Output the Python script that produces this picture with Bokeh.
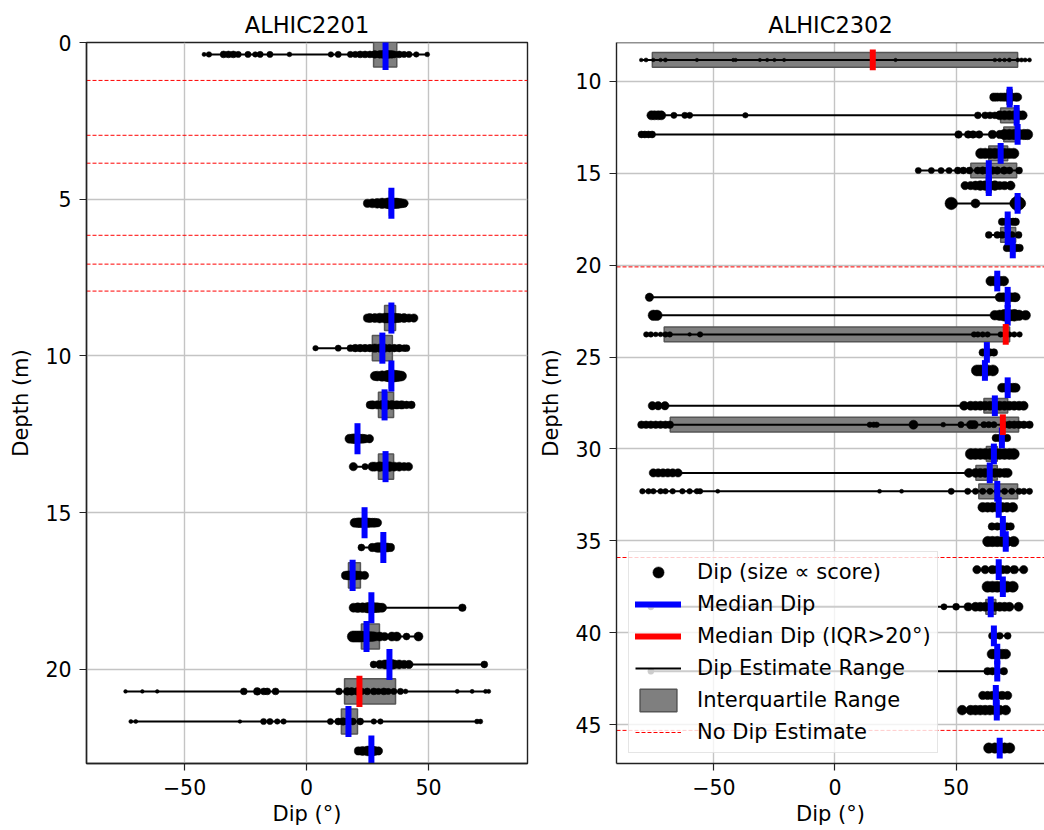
from bokeh.plotting import figure
from bokeh.models import (Range1d, FixedTicker, CustomJSTickFormatter, Legend, LegendItem,
                          ColumnDataSource, Span)
from bokeh.layouts import row
from bokeh.embed import file_html
from bokeh.resources import INLINE

# ---------------- data: ALHIC2201 ----------------
titles = ["ALHIC2201", "ALHIC2302"]
x_ticks = [-50, 0, 50]
y_ticks_2201 = [0, 5, 10, 15, 20]
y_ticks_2302 = [10, 15, 20, 25, 30, 35, 40, 45]

depth_2201 = [0.38, 5.13, 8.79, 9.75, 10.64, 11.56, 12.64, 13.53, 15.32, 16.11, 17.0,
              18.03, 18.95, 19.84, 20.7, 21.66, 22.6]
q1_2201 = [27.5, 34.0, 32.0, 27.0, 34.0, 29.5, 20.2, 29.5, 23.2, 30.8, 17.2,
           26.0, 22.5, 33.3, 15.6, 14.3, 26.0]
q3_2201 = [37.0, 35.5, 36.5, 35.2, 35.5, 35.7, 21.6, 35.7, 24.5, 32.2, 22.1,
           27.3, 29.9, 34.7, 36.5, 20.9, 27.3]
median_2201 = [32.4, 34.8, 34.8, 31.1, 34.8, 32.0, 20.9, 32.4, 23.8, 31.5, 18.9,
               26.6, 24.6, 34.0, 21.7, 17.2, 26.6]
dips_2201 = [
    [-42, -40, -34, -32, -30, -28, -24, -21, -19, -15, -7, 10, 13, 18, 20, 22, 24, 26, 28, 30,
     31, 32, 33, 34, 35, 36, 38, 40, 42, 45, 49.5],
    [25, 27, 29, 31, 33, 34, 35, 36, 37, 38, 39, 40],
    [25, 26, 28, 30, 32, 33, 34, 35, 36, 37, 38, 40, 42, 44],
    [3.7, 13, 18, 20, 22, 24, 26, 28, 30, 32, 34, 36, 38, 40, 41],
    [28, 29, 31, 33, 34, 35, 36, 37, 38, 39],
    [26, 27, 29, 31, 33, 35, 37, 39, 41, 43],
    [17.6, 19, 20, 21, 22, 23, 24, 25.8],
    [19.2, 24, 27, 28, 30, 32, 34, 36, 38, 40, 41.8],
    [19.7, 21, 22, 23, 24, 25, 26, 27, 28, 29.1],
    [22.5, 27, 29, 30, 31, 32, 33, 34.4],
    [16, 17, 18, 19, 20, 21, 22, 23.8],
    [19.3, 21, 23, 25, 26, 27, 28, 29, 30, 31, 63.9],
    [19, 20, 21, 22, 23, 24, 25, 26, 27, 28, 30, 32, 35, 37, 41, 45.9],
    [27.5, 30, 32, 33, 34, 35, 36, 38, 40, 42, 72.9],
    [-74.2, -67.3, -61.2, -25.7, -20.2, -17.5, -16.1, -12.7, 13.3, 16.7, 18.5, 20.8, 22.5, 24.9,
     27.6, 29.5, 31.7, 33.5, 35.8, 38.5, 40.6, 61.8, 67.9, 73.4, 74.7],
    [-72, -70, -27.3, -17.6, -15, -12, -9.4, 9.8, 13, 15, 17, 19, 22, 27.6, 30.3, 69.9, 71.3],
    [21.3, 23, 25, 26, 27, 28, 29.5],
]
scores_2201 = [
    [0.15, 0.25, 0.35, 0.35, 0.35, 0.3, 0.3, 0.25, 0.3, 0.3, 0.2, 0.25, 0.3, 0.3, 0.3, 0.35,
     0.35, 0.35, 0.4, 0.4, 0.4, 0.45, 0.45, 0.4, 0.4, 0.35, 0.35, 0.3, 0.3, 0.25, 0.2],
    [0.45, 0.5, 0.55, 0.6, 0.6, 0.65, 0.65, 0.6, 0.6, 0.55, 0.5, 0.45],
    [0.45, 0.5, 0.5, 0.55, 0.55, 0.55, 0.55, 0.55, 0.55, 0.5, 0.5, 0.5, 0.45, 0.45],
    [0.25, 0.3, 0.35, 0.4, 0.4, 0.4, 0.4, 0.45, 0.45, 0.45, 0.4, 0.4, 0.4, 0.35, 0.35],
    [0.5, 0.55, 0.6, 0.65, 0.7, 0.7, 0.7, 0.65, 0.6, 0.55],
    [0.4, 0.45, 0.45, 0.5, 0.5, 0.5, 0.45, 0.45, 0.4, 0.4],
    [0.5, 0.55, 0.55, 0.55, 0.5, 0.5, 0.45, 0.45],
    [0.45, 0.3, 0.5, 0.5, 0.55, 0.55, 0.55, 0.5, 0.5, 0.45, 0.45],
    [0.5, 0.55, 0.55, 0.55, 0.55, 0.55, 0.5, 0.5, 0.5, 0.45],
    [0.35, 0.45, 0.55, 0.55, 0.55, 0.5, 0.5, 0.45],
    [0.45, 0.5, 0.5, 0.5, 0.5, 0.45, 0.45, 0.45],
    [0.5, 0.55, 0.55, 0.6, 0.6, 0.6, 0.55, 0.55, 0.5, 0.5, 0.4],
    [0.65, 0.65, 0.65, 0.65, 0.6, 0.6, 0.6, 0.55, 0.55, 0.5, 0.5, 0.45, 0.5, 0.5, 0.35, 0.5],
    [0.35, 0.45, 0.5, 0.5, 0.55, 0.55, 0.5, 0.5, 0.45, 0.45, 0.35],
    [0.12, 0.12, 0.12, 0.35, 0.4, 0.35, 0.35, 0.35, 0.35, 0.4, 0.4, 0.4, 0.35, 0.35, 0.35, 0.3,
     0.35, 0.3, 0.3, 0.3, 0.2, 0.15, 0.15, 0.15, 0.15],
    [0.15, 0.15, 0.12, 0.3, 0.3, 0.25, 0.25, 0.3, 0.35, 0.4, 0.4, 0.35, 0.35, 0.25, 0.25, 0.2, 0.2],
    [0.45, 0.5, 0.55, 0.55, 0.55, 0.5, 0.45],
]
no_dip_2201 = [1.21, 2.96, 3.85, 6.15, 7.07, 7.93]

# ---------------- data: ALHIC2302 ----------------
depth_2302 = [8.85, 10.87, 11.86, 12.9, 13.93, 14.86, 15.68, 16.65, 17.65, 18.36, 19.07,
              20.87, 21.75, 22.73, 23.77, 24.75, 25.73, 26.67, 27.65, 28.68, 29.4, 30.27,
              31.3, 32.3, 33.17, 34.21, 35.03, 36.56, 37.49, 38.58, 40.16, 41.15, 42.08,
              43.4, 44.2, 46.26]
q1_2302 = [-75.4, 71.0, 68.4, 69.7, 63.5, 56.1, 62.5, 74.5, 70.5, 68.4, 72.7,
           66.3, 70.6, 70.6, -70.5, 62.0, 61.2, 70.6, 61.5, -68.0, 68.2, 62.5,
           58.2, 59.4, 66.9, 68.6, 69.8, 66.9, 68.6, 62.3, 64.9, 66.3, 66.3,
           65.7, 66.1, 67.3]
q3_2302 = [75.4, 73.2, 75.8, 75.8, 71.3, 75.0, 64.5, 76.2, 72.0, 74.6, 74.1,
           67.7, 72.0, 72.0, 72.1, 63.4, 62.6, 72.0, 71.3, 75.8, 69.6, 67.0,
           67.0, 75.4, 68.3, 70.0, 71.2, 68.3, 70.0, 66.4, 66.3, 67.7, 67.7,
           67.1, 67.5, 68.7]
median_2302 = [15.6, 72.1, 75.0, 75.4, 68.4, 63.5, 63.5, 75.4, 71.3, 71.3, 73.4,
               67.0, 71.3, 71.3, 70.5, 62.7, 61.9, 71.3, 66.0, 69.3, 68.9, 65.6,
               63.9, 67.0, 67.6, 69.3, 70.5, 67.6, 69.3, 64.3, 65.6, 67.0, 67.0,
               66.4, 66.8, 68.0]
dips_2302 = [
    [-80, -78, -75, -72, -70, -57, -42, -41, -31, -28, -25, -21, 25, 66, 68, 70, 72, 75.5, 77, 78.5, 80.3],
    [65.6, 67, 68.5, 70, 71.5, 73, 74.5, 75.4],
    [-75.8, -74.5, -73, -71.7, -66.5, -62, -60, -37, 59, 62, 64, 66, 68, 70, 72, 74, 76, 77.5],
    [-79.9, -78.5, -77, -75.5, 51, 55, 57, 59.5, 65, 68, 70, 72, 74, 76, 78, 79.5],
    [60.2, 62, 64, 66, 68, 70, 72, 73.8],
    [34.4, 39.8, 43.8, 47.1, 50.7, 53, 55.5, 58.9, 61, 63, 65, 67, 69.8, 72, 76],
    [53.7, 56, 58, 60, 62, 64, 66, 68, 70, 72.5],
    [48, 58, 74, 75.4, 76.6],
    [69, 70.5, 72, 73.5, 74.6],
    [63.5, 67, 69, 71, 73, 75.8],
    [71, 72.5, 74, 75, 76.2],
    [64.3, 66, 67, 68, 69.7],
    [-76.6, 68, 69.5, 71, 72.5, 74, 74.6],
    [-75, -73.5, 66, 68, 70, 72, 74, 76, 78.7],
    [-77.9, -76, -74, -72, -70, -68.2, -60, -55.7, 57.4, 59, 61, 63, 68.4, 70, 72, 74, 76.2],
    [61, 62.5, 64, 65.6],
    [58.6, 60, 61.5, 63, 65.2],
    [69, 70.5, 72, 73.5, 74.6],
    [-75.4, -73, -70.2, 53.3, 56, 58, 60, 62, 64, 66, 68, 70, 72, 74, 76, 77.9],
    [-79.9, -78, -76, -74, -72, -70, -68.2, 14.4, 16, 17.2, 32.4, 44.7, 52, 56, 57.4, 61.5,
     63.5, 65.6, 69.7, 72, 74, 76, 78, 80.3],
    [66.4, 68, 69.5, 71],
    [56.1, 58, 60, 62, 64, 66, 68, 70, 72, 73.8],
    [-75, -73, -71, -69, -67, -64.8, 55.3, 58, 60, 62, 64, 66, 68, 70, 71.3],
    [-79.5, -77, -75, -72, -70, -67, -63, -60, -57, -55.7, -48.4, 18.4, 27.5, 48, 54.8, 58,
     61, 64, 67, 70, 73, 76, 78, 80.3],
    [61, 63, 65, 67, 69, 71, 73.4],
    [64.8, 67, 69, 71, 72.5],
    [63.1, 65, 67, 69, 71, 73.8],
    [58.6, 62, 65, 67, 69, 71, 74, 77.9],
    [63, 65, 67, 69, 71, 73.4],
    [-76, 45, 50, 55, 58, 60, 62, 64, 66, 68, 70, 72, 75.8],
    [64.8, 66, 68, 71.3],
    [64.8, 66, 67.5, 69, 70.5],
    [-76, 63, 65, 67, 69.7],
    [61, 63, 65, 67, 69, 71.3],
    [52.5, 56, 58, 60, 62, 64, 66, 68, 70.5],
    [63.5, 66, 68, 70, 72.1],
]
scores_2302 = [
    [0.12, 0.15, 0.12, 0.12, 0.15, 0.1, 0.1, 0.1, 0.1, 0.1, 0.1, 0.1, 0.1, 0.12, 0.12, 0.12,
     0.15, 0.15, 0.15, 0.15, 0.15],
    [0.45, 0.45, 0.45, 0.45, 0.45, 0.45, 0.45, 0.45],
    [0.5, 0.5, 0.5, 0.5, 0.3, 0.3, 0.3, 0.25, 0.35, 0.35, 0.35, 0.35, 0.5, 0.5, 0.5, 0.5, 0.5, 0.5],
    [0.35, 0.35, 0.35, 0.35, 0.4, 0.4, 0.4, 0.4, 0.45, 0.45, 0.6, 0.6, 0.6, 0.6, 0.6, 0.6],
    [0.6, 0.6, 0.6, 0.6, 0.6, 0.6, 0.6, 0.6],
    [0.3, 0.3, 0.3, 0.3, 0.35, 0.35, 0.35, 0.35, 0.4, 0.4, 0.4, 0.4, 0.4, 0.35, 0.35],
    [0.45, 0.45, 0.5, 0.55, 0.55, 0.55, 0.55, 0.45, 0.45, 0.5],
    [0.75, 0.5, 0.5, 0.9, 0.6],
    [0.4, 0.4, 0.4, 0.4, 0.4],
    [0.35, 0.35, 0.35, 0.35, 0.35, 0.35],
    [0.4, 0.4, 0.4, 0.4, 0.4],
    [0.55, 0.55, 0.55, 0.55, 0.55],
    [0.45, 0.5, 0.5, 0.5, 0.5, 0.5, 0.5],
    [0.6, 0.6, 0.55, 0.6, 0.7, 0.7, 0.7, 0.6, 0.55],
    [0.25, 0.25, 0.2, 0.2, 0.25, 0.25, 0.12, 0.25, 0.25, 0.25, 0.25, 0.25, 0.25, 0.25, 0.25, 0.25, 0.25],
    [0.4, 0.4, 0.4, 0.4],
    [0.65, 0.65, 0.65, 0.65, 0.65],
    [0.5, 0.5, 0.5, 0.5, 0.5],
    [0.45, 0.45, 0.45, 0.5, 0.5, 0.5, 0.5, 0.5, 0.5, 0.5, 0.5, 0.5, 0.5, 0.5, 0.5, 0.5],
    [0.4, 0.4, 0.4, 0.4, 0.4, 0.4, 0.4, 0.25, 0.25, 0.25, 0.5, 0.2, 0.3, 0.45, 0.45, 0.3,
     0.3, 0.3, 0.4, 0.4, 0.4, 0.4, 0.4, 0.4],
    [0.4, 0.4, 0.4, 0.4],
    [0.65, 0.65, 0.65, 0.65, 0.65, 0.65, 0.65, 0.65, 0.65, 0.65],
    [0.45, 0.45, 0.45, 0.45, 0.45, 0.45, 0.5, 0.5, 0.5, 0.5, 0.5, 0.5, 0.5, 0.5, 0.5],
    [0.25, 0.25, 0.25, 0.25, 0.25, 0.25, 0.25, 0.25, 0.25, 0.25, 0.15, 0.15, 0.15, 0.3, 0.3,
     0.3, 0.3, 0.3, 0.3, 0.3, 0.3, 0.3, 0.3, 0.3],
    [0.55, 0.55, 0.55, 0.55, 0.55, 0.55, 0.55],
    [0.4, 0.4, 0.4, 0.4, 0.4],
    [0.6, 0.6, 0.6, 0.6, 0.6, 0.6],
    [0.45, 0.45, 0.45, 0.45, 0.45, 0.45, 0.45, 0.45],
    [0.65, 0.65, 0.65, 0.65, 0.65, 0.65],
    [0.3, 0.3, 0.35, 0.45, 0.5, 0.5, 0.5, 0.5, 0.5, 0.5, 0.5, 0.5, 0.5],
    [0.35, 0.35, 0.35, 0.35],
    [0.55, 0.55, 0.55, 0.55, 0.55],
    [0.3, 0.4, 0.4, 0.4, 0.4],
    [0.45, 0.45, 0.45, 0.45, 0.45, 0.45],
    [0.55, 0.55, 0.55, 0.55, 0.55, 0.55, 0.55, 0.55, 0.55],
    [0.6, 0.6, 0.6, 0.6, 0.6],
]
no_dip_2302 = [20.1, 35.9, 45.3]

IQR_LIMIT = 20.0

# ---------------- styling ----------------
FONT = "DejaVu Sans"
BOX_H = 0.8
X_RANGES = [(-90.2, 90.6), (-90.2, 86.5)]
Y_RANGES = [(23.0, 0.0), (47.1, 7.9)]
minus_fmt = CustomJSTickFormatter(code="return (tick < 0 ? '\u2212' : '') + Math.abs(tick);")


def make_panel(title, depths, q1s, q3s, meds, dips, scores, nodip, yticks, xr, yr, width, bl, br):
    p = figure(width=width, height=830, x_range=Range1d(*xr), y_range=Range1d(*yr),
               output_backend="svg", toolbar_location=None, title=title,
               min_border_left=bl, min_border_right=br, min_border_top=42, min_border_bottom=67)
    p.title.align = "center"
    p.title.text_font = FONT
    p.title.text_font_size = "22.5px"
    p.title.text_font_style = "normal"
    p.title.text_color = "black"

    for ax in (p.xaxis[0], p.yaxis[0]):
        ax.major_label_text_font = FONT
        ax.major_label_text_font_size = "20.5px"
        ax.major_label_text_color = "black"
        ax.axis_label_text_font = FONT
        ax.axis_label_text_font_size = "21px"
        ax.axis_label_text_font_style = "normal"
        ax.axis_label_text_color = "black"
        ax.major_tick_in = 0
        ax.major_tick_out = 7
        ax.minor_tick_out = 0
        ax.minor_tick_in = 0
        ax.major_tick_line_color = "#222222"
        ax.major_tick_line_width = 1.2
        ax.axis_line_color = "#222222"
        ax.axis_line_width = 1.4
        ax.major_label_standoff = 8
    p.xaxis.axis_label = "Dip (°)"
    p.yaxis.axis_label = "Depth (m)"
    p.xaxis.axis_label_standoff = 4
    p.yaxis.axis_label_standoff = 9
    p.xaxis.ticker = FixedTicker(ticks=x_ticks)
    p.yaxis.ticker = FixedTicker(ticks=yticks)
    p.xaxis.formatter = minus_fmt
    p.xgrid.ticker = FixedTicker(ticks=x_ticks)
    p.ygrid.ticker = FixedTicker(ticks=yticks)
    p.grid.grid_line_color = "#c4c4c4"
    p.grid.grid_line_width = 1.4
    p.outline_line_color = "#222222"
    p.outline_line_width = 1.4

    # no-dip-estimate lines
    nd = p.segment(x0=[xr[0]] * len(nodip), x1=[xr[1]] * len(nodip), y0=nodip, y1=nodip,
                   line_color="red", line_width=1, line_dash="4 2")

    # interquartile boxes
    box_src = ColumnDataSource(dict(
        left=q1s, right=q3s,
        top=[d - BOX_H / 2 for d in depths], bottom=[d + BOX_H / 2 for d in depths]))
    bx = p.quad(left="left", right="right", top="top", bottom="bottom", source=box_src,
                fill_color="#7f7f7f", fill_alpha=1.0, line_color="#555555", line_width=1.5)

    # dip estimate range
    mins = [min(v) for v in dips]
    maxs = [max(v) for v in dips]
    rg = p.segment(x0=mins, x1=maxs, y0=depths, y1=depths, line_color="black", line_width=2)

    # dip points, size proportional to score
    px, py, ps = [], [], []
    for d, vals, scs in zip(depths, dips, scores):
        for v, s in zip(vals, scs):
            px.append(v)
            py.append(d)
            ps.append(2 + 14 * s)
    sc = p.scatter(x=px, y=py, size=ps, marker="circle", fill_color="black", line_color="black",
                   line_width=0.5)

    # median bars
    def med_bars(sel, color):
        xs = [meds[i] for i in sel]
        y0 = [depths[i] - BOX_H / 2 for i in sel]
        y1 = [depths[i] + BOX_H / 2 for i in sel]
        return p.segment(x0=xs, x1=xs, y0=y0, y1=y1, line_color=color, line_width=6,
                         line_cap="square")

    blue_i = [i for i in range(len(depths)) if q3s[i] - q1s[i] <= IQR_LIMIT]
    red_i = [i for i in range(len(depths)) if q3s[i] - q1s[i] > IQR_LIMIT]
    mb = med_bars(blue_i, "blue")
    mr = med_bars(red_i, "red")
    return p, dict(sc=sc, mb=mb, mr=mr, rg=rg, bx=bx, nd=nd)


p1, _ = make_panel(titles[0], depth_2201, q1_2201, q3_2201, median_2201, dips_2201, scores_2201,
                   no_dip_2201, y_ticks_2201, X_RANGES[0], Y_RANGES[0], 536, 86, 9)
p2, r2 = make_panel(titles[1], depth_2302, q1_2302, q3_2302, median_2302, dips_2302, scores_2302,
                    no_dip_2302, y_ticks_2302, X_RANGES[1], Y_RANGES[1], 508, 77, 0)

# right panel is clipped at the page edge: draw frame without the right spine
p2.outline_line_color = None
p2.add_layout(Span(location=Y_RANGES[1][1], dimension="width", line_color="#222222",
                   line_width=1.4))

legend = Legend(items=[
    LegendItem(label="Dip (size \u221d score)", renderers=[r2["sc"]]),
    LegendItem(label="Median Dip", renderers=[r2["mb"]]),
    LegendItem(label="Median Dip (IQR>20°)", renderers=[r2["mr"]]),
    LegendItem(label="Dip Estimate Range", renderers=[r2["rg"]]),
    LegendItem(label="Interquartile Range", renderers=[r2["bx"]]),
    LegendItem(label="No Dip Estimate", renderers=[r2["nd"]]),
], location=(12, 10), glyph_width=46, glyph_height=28, label_standoff=16, spacing=4,
    padding=6, margin=0, label_text_font=FONT, label_text_font_size="21px",
    label_text_color="black", border_line_color="#cccccc", border_line_width=1.2,
    background_fill_color="white", background_fill_alpha=0.8)
p2.add_layout(legend)

layout = row(p1, p2)
open("out.html", "w").write(file_html(layout, INLINE))
